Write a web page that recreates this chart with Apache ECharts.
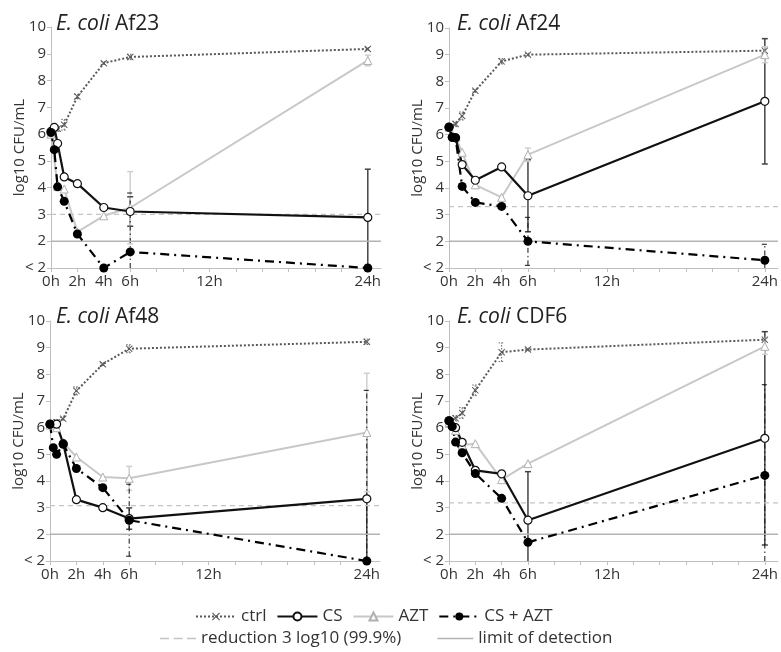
<!DOCTYPE html>
<html>
<head>
<meta charset="utf-8">
<script src="https://cdn.jsdelivr.net/npm/echarts@6/dist/echarts.min.js"></script>
<style>
  html, body { margin: 0; padding: 0; background: #fff; }
  #chart { width: 781px; height: 652px; }
</style>
</head>
<body>
<div id="chart"></div>
<script>
// sampling times (h)
var times = [0, 0.25, 0.5, 1, 2, 4, 6, 24];
var strains = ['Af23', 'Af24', 'Af48', 'CDF6'];
var xLabelHours = [0, 2, 4, 6, 12, 24];

// log10 CFU/mL per strain (null = no point)
var ctrlValues = [
  [6.05, null, 6.2, 6.35, 7.4, 8.65, 8.88, 9.18],
  [6.3, null, 6.4, 6.7, 7.65, 8.75, 9.0, 9.15],
  [6.15, null, 6.2, 6.33, 7.38, 8.38, 8.96, 9.22],
  [6.26, null, 6.35, 6.55, 7.4, 8.83, 8.93, 9.3]
];
var csValues = [
  [6.1, 6.25, 5.65, 4.4, 4.15, 3.26, 3.11, 2.89],
  [6.28, 5.9, 5.88, 4.88, 4.29, 4.79, 3.71, 7.25],
  [6.13, null, 6.13, 5.4, 3.3, 3.0, 2.59, 3.33],
  [6.26, 6.04, 6.0, 5.45, 4.4, 4.27, 2.53, 5.6]
];
var aztValues = [
  [6.0, null, 4.05, 3.95, 2.35, 2.95, 3.25, 8.75],
  [6.28, null, 5.9, 5.34, 4.12, 3.65, 5.25, 9.0],
  [6.1, null, 6.0, 5.45, 4.9, 4.15, 4.1, 5.82],
  [6.2, null, 5.9, 5.35, 5.4, 4.05, 4.65, 9.05]
];
var comboValues = [
  [6.06, 5.42, 4.03, 3.49, 2.27, 1.0, 1.6, 1.0],
  [6.28, 5.9, 5.88, 4.06, 3.46, 3.31, 2.0, 1.29],
  [6.13, 5.25, 5.0, 5.38, 4.47, 3.75, 2.53, 1.0],
  [6.26, 6.04, 5.46, 5.06, 4.28, 3.35, 1.7, 4.21]
];

// error bars (+/-)
var ctrlErr = [
  [0, 0, 0.1, 0.2, 0.08, 0.05, 0.1, 0.05],
  [0, 0, 0.1, 0.15, 0.05, 0.1, 0.05, 0.15],
  [0, 0, 0.1, 0.05, 0.15, 0.05, 0.15, 0.1],
  [0, 0, 0.1, 0.2, 0.2, 0.35, 0.05, 0.3]
];
var csErr = [
  [0, 0, 0, 0, 0, 0, 0.55, 1.8],
  [0, 0, 0, 0, 0, 0, 1.35, 2.35],
  [0, 0, 0, 0, 0, 0, 0.4, 2.35],
  [0, 0, 0, 0, 0, 0, 1.82, 4.0]
];
var aztErr = [
  [0, 0, 0, 0, 0, 0, 1.35, 0.2],
  [0, 0, 0, 0, 0, 0, 0.25, 0.3],
  [0, 0, 0, 0, 0, 0, 0.45, 2.22],
  [0, 0, 0, 0, 0, 0, 0, 0.3]
];
var comboErr = [
  [0, 0, 0, 0, 0, 0, 2.2, 0],
  [0, 0, 0, 0, 0, 0, 0.9, 0.6],
  [0, 0, 0, 0, 0, 0, 1.35, 6.4],
  [0, 0, 0, 0, 0, 0, 0, 3.4]
];

// 3 log10 reduction level and detection limit
var reductionLevels = [3.0, 3.3, 3.08, 3.18];
var detectionLimit = 2;

var FONT = 'Open Sans';
var grids = [
  { left: 51, right: 400, top: 27, bottom: 384 },
  { left: 449, right: 3, top: 28, bottom: 384 },
  { left: 50, right: 401, top: 321, bottom: 91 },
  { left: 449, right: 3, top: 321, bottom: 91 }
];
var titlePos = [[51, 9], [452, 9], [51, 302], [452, 302]];

var crossPath = 'path://M0,1L1,0L5,4L9,0L10,1L6,5L10,9L9,10L5,6L1,10L0,9L4,5Z';
var dashIcon = 'path://M0,0h6v1h-6zM9,0h6v1h-6zM18,0h6v1h-6z';
var solidIcon = 'path://M0,0h24v1h-24z';

function pts(vals) {
  return times.map(function (t, i) { return [t, vals[i]]; })
    .filter(function (p) { return p[1] != null; });
}
function errPts(vals, errs) {
  return times.map(function (t, i) { return [t, vals[i], errs[i]]; })
    .filter(function (p) { return p[1] != null && p[2] > 0; });
}
function errBar(style) {
  return function (params, api) {
    var x = api.value(0), y = api.value(1), e = api.value(2);
    var lo = Math.max(y - e, 1), hi = Math.min(y + e, 10);
    var p1 = api.coord([x, lo]), p2 = api.coord([x, hi]);
    var kids = [{ type: 'line', shape: { x1: p1[0], y1: p1[1], x2: p2[0], y2: p2[1] }, style: style }];
    if (y - e >= 1) kids.push({ type: 'line', shape: { x1: p1[0] - 3, y1: p1[1], x2: p1[0] + 3, y2: p1[1] }, style: style });
    if (y + e <= 10) kids.push({ type: 'line', shape: { x1: p2[0] - 3, y1: p2[1], x2: p2[0] + 3, y2: p2[1] }, style: style });
    return { type: 'group', children: kids };
  };
}

var option = {
  animation: false,
  backgroundColor: '#fff',
  textStyle: { fontFamily: FONT },
  title: [],
  grid: [],
  xAxis: [],
  yAxis: [],
  series: [],
  legend: [
    {
      data: ['ctrl', 'CS', 'AZT', 'CS + AZT'],
      left: 190, top: 603, itemWidth: 40, itemHeight: 10, itemGap: 10,
      textStyle: { fontFamily: FONT, fontSize: 17, color: '#333' }
    },
    {
      data: [
        { name: 'reduction 3 log10 (99.9%)', icon: dashIcon },
        { name: 'limit of detection', icon: solidIcon }
      ],
      left: 155, top: 625, itemWidth: 36, itemHeight: 2, itemGap: 36,
      textStyle: { fontFamily: FONT, fontSize: 17, color: '#333' }
    }
  ]
};

strains.forEach(function (name, k) {
  option.title.push({
    text: '{i|E. coli} ' + name,
    left: titlePos[k][0], top: titlePos[k][1],
    textStyle: {
      fontFamily: FONT, fontSize: 21, fontWeight: 'normal', color: '#222',
      rich: { i: { fontFamily: FONT, fontStyle: 'italic', fontSize: 21, color: '#222' } }
    }
  });
  option.grid.push(grids[k]);
  option.xAxis.push({
    type: 'value', gridIndex: k, min: 0, max: 25,
    axisLine: { lineStyle: { color: '#bfbfbf', width: 1 } },
    axisTick: { show: true, length: 4, customValues: [0, 2, 4, 6, 8, 10, 12, 14, 16, 18, 20, 22, 24], lineStyle: { color: '#bfbfbf' } },
    axisLabel: {
      customValues: xLabelHours, margin: 6, color: '#333', fontSize: 15, fontFamily: FONT,
      formatter: function (v) { return v + 'h'; }
    },
    splitLine: { show: false }
  });
  option.yAxis.push({
    type: 'value', gridIndex: k, min: 1, max: 10, interval: 1,
    name: 'log10 CFU/mL', nameLocation: 'middle', nameGap: 24, nameMoveOverlap: false,
    nameTextStyle: { fontFamily: FONT, fontSize: 15, color: '#333' },
    axisLine: { show: true, lineStyle: { color: '#bfbfbf', width: 1 } },
    axisTick: { show: true, length: 4, lineStyle: { color: '#bfbfbf' } },
    axisLabel: {
      margin: 5, color: '#333', fontSize: 15, fontFamily: FONT,
      formatter: function (v) { return v === 1 ? '< 2' : String(v); }
    },
    splitLine: { show: false }
  });

  // reference lines
  option.series.push({
    name: 'reduction 3 log10 (99.9%)', type: 'line', xAxisIndex: k, yAxisIndex: k,
    data: [[0, reductionLevels[k]], [25, reductionLevels[k]]], symbol: 'none', silent: true,
    lineStyle: { color: '#c4c4c4', width: 1.2, type: [5, 4] }, itemStyle: { color: '#c4c4c4' }
  });
  option.series.push({
    name: 'limit of detection', type: 'line', xAxisIndex: k, yAxisIndex: k,
    data: [[0, detectionLimit], [25, detectionLimit]], symbol: 'none', silent: true,
    lineStyle: { color: '#b4b4b4', width: 1.5 }, itemStyle: { color: '#b4b4b4' }
  });

  // error bars
  var bars = [
    [ctrlValues, ctrlErr, { stroke: '#666', lineWidth: 1, lineDash: [1.5, 1.5] }],
    [csValues, csErr, { stroke: '#444', lineWidth: 1.5 }],
    [aztValues, aztErr, { stroke: '#cfcfcf', lineWidth: 1.5 }],
    [comboValues, comboErr, { stroke: '#111', lineWidth: 1, lineDash: [5, 3, 1.5, 3] }]
  ];
  bars.forEach(function (b) {
    option.series.push({
      type: 'custom', xAxisIndex: k, yAxisIndex: k, silent: true,
      data: errPts(b[0][k], b[1][k]), renderItem: errBar(b[2])
    });
  });

  option.series.push({
    name: 'ctrl', type: 'line', xAxisIndex: k, yAxisIndex: k, data: pts(ctrlValues[k]),
    symbol: crossPath, symbolSize: 7,
    lineStyle: { color: '#595959', width: 2, type: [2, 2] },
    itemStyle: { color: '#595959' }
  });
  option.series.push({
    name: 'AZT', type: 'line', xAxisIndex: k, yAxisIndex: k, data: pts(aztValues[k]),
    symbol: 'triangle', symbolSize: 8,
    lineStyle: { color: '#c8c8c8', width: 2 },
    itemStyle: { color: '#fff', borderColor: '#b0b0b0', borderWidth: 1 }
  });
  option.series.push({
    name: 'CS', type: 'line', xAxisIndex: k, yAxisIndex: k, data: pts(csValues[k]),
    symbol: 'circle', symbolSize: 8,
    lineStyle: { color: '#111', width: 2.2 },
    itemStyle: { color: '#fff', borderColor: '#111', borderWidth: 1.2 }
  });
  option.series.push({
    name: 'CS + AZT', type: 'line', xAxisIndex: k, yAxisIndex: k, data: pts(comboValues[k]),
    symbol: 'circle', symbolSize: 9,
    lineStyle: { color: '#000', width: 2.2, type: [9, 5, 2, 5] },
    itemStyle: { color: '#000' }
  });
});

var chart = echarts.init(document.getElementById('chart'), null, { renderer: 'canvas' });
chart.setOption(option);
</script>
</body>
</html>
